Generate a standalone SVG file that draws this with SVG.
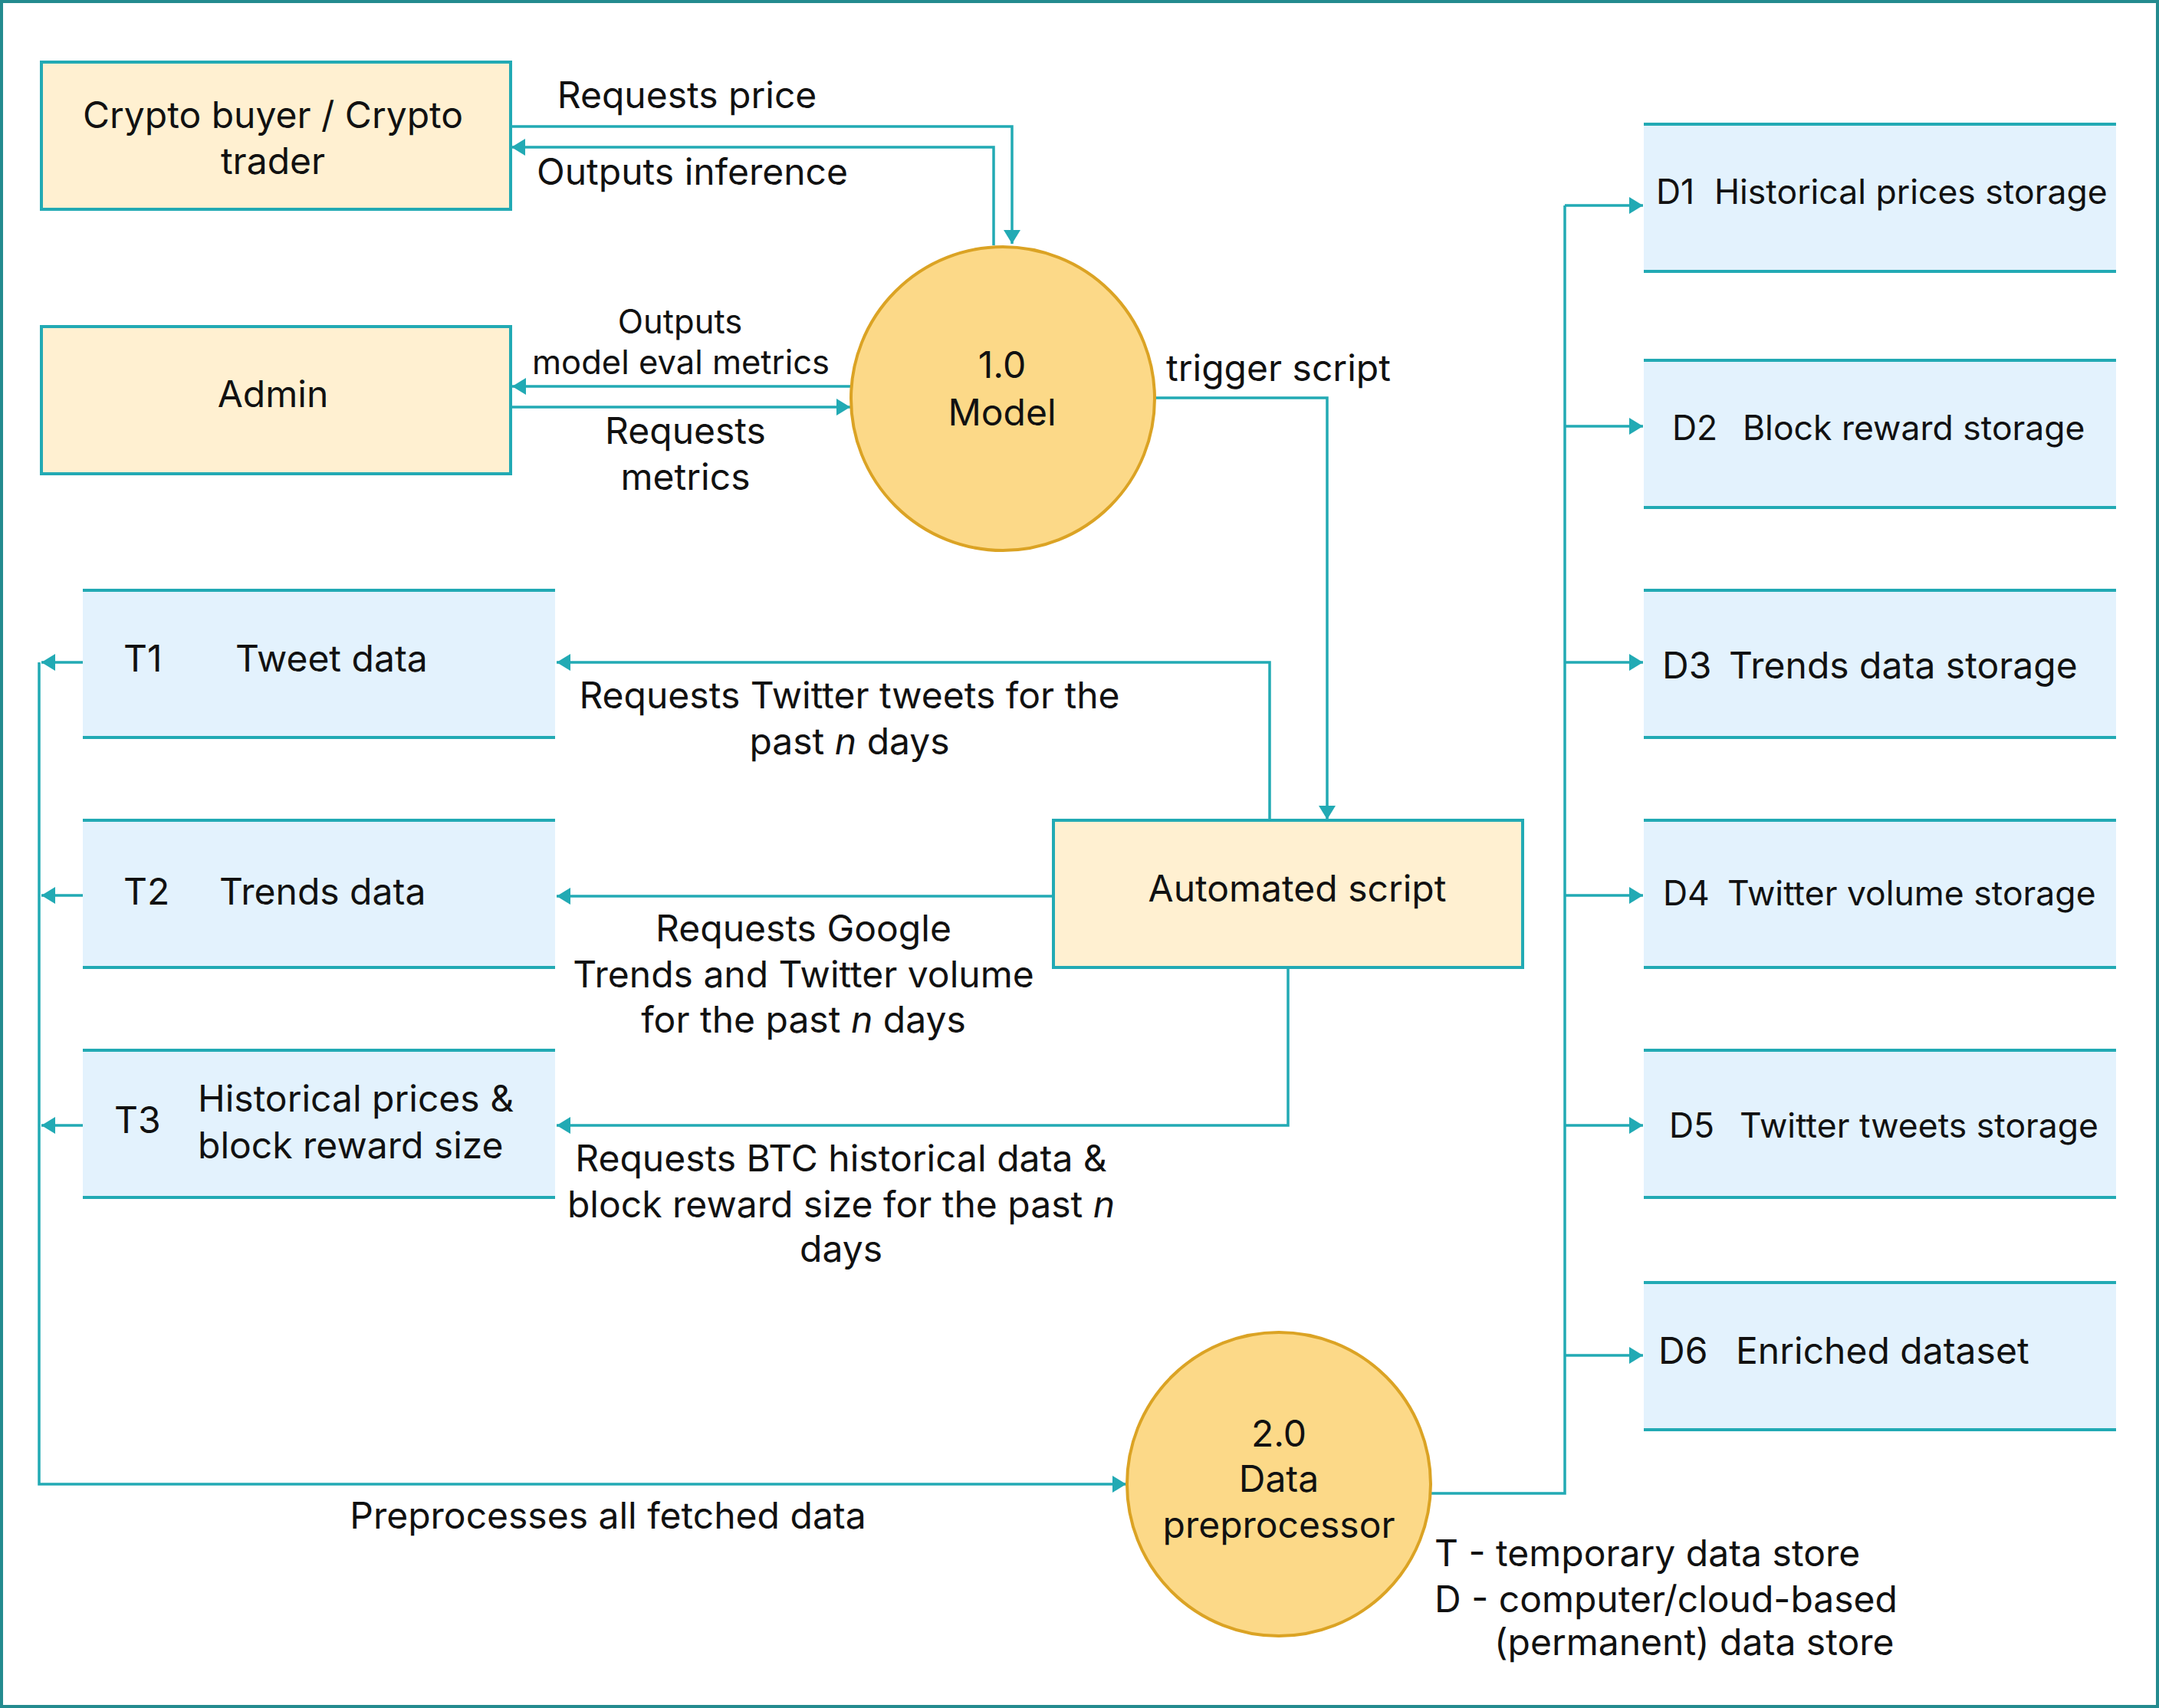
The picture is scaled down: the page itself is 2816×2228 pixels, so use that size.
<svg xmlns="http://www.w3.org/2000/svg" width="2816" height="2228" viewBox="0 0 2816 2228">
<style>
.t{font-family:Inter,"Noto Sans","Liberation Sans",sans-serif;font-size:48px;fill:#111;}
.s{font-size:43.5px;}
.d{font-size:44.5px;}
.m{text-anchor:middle;}
.ent{fill:#FFF0D1;stroke:#22AAB4;stroke-width:4;}
.store{fill:#E3F2FD;}
.sl{stroke:#22AAB4;stroke-width:4;fill:none;}
.proc{fill:#FCD988;stroke:#DBA324;stroke-width:4;}
.c{stroke:#22AAB4;stroke-width:3.5;fill:none;}
.ca{stroke:#22AAB4;stroke-width:3.5;fill:none;marker-end:url(#ah);}
</style>
<defs>
<marker id="ah" markerUnits="userSpaceOnUse" markerWidth="20" markerHeight="24" refX="18" refY="11" orient="auto" viewBox="0 0 20 24">
<path d="M0,0 L18,11 L0,22 z" fill="#22AAB4"/>
</marker>
</defs>
<rect x="0" y="0" width="2816" height="2228" fill="#fff"/>
<rect x="2" y="2" width="2812" height="2224" fill="none" stroke="#238B8F" stroke-width="4"/>

<g id="connectors">
<path class="ca" d="M666,165 H1320 V318"/>
<path class="ca" d="M1296,320 V192 H667"/>
<path class="ca" d="M1110,504 H668"/>
<path class="ca" d="M666,531 H1109"/>
<path class="ca" d="M1506,519 H1731 V1069"/>
<path class="ca" d="M1656,1070 V864 H726"/>
<path class="ca" d="M1374,1169 H726"/>
<path class="ca" d="M1680,1262 V1468 H726"/>
<path class="ca" d="M108,864 H54"/>
<path class="ca" d="M108,1168 H54"/>
<path class="ca" d="M108,1468 H54"/>
<path class="ca" d="M51,864 V1936 H1469"/>
<path class="c" d="M1866,1948 H2041 V268"/>
<path class="ca" d="M2041,268 H2143"/>
<path class="ca" d="M2041,556 H2143"/>
<path class="ca" d="M2041,864 H2143"/>
<path class="ca" d="M2041,1168 H2143"/>
<path class="ca" d="M2041,1468 H2143"/>
<path class="ca" d="M2041,1768 H2143"/>
</g>

<g id="labels">
<text class="t m" x="896" y="141">Requests price</text>
<text class="t m" x="903" y="241">Outputs inference</text>
<text class="t s m" x="887" y="435">Outputs</text>
<text class="t s m" x="888" y="488">model eval metrics</text>
<text class="t m" x="894" y="579">Requests</text>
<text class="t m" x="894" y="639">metrics</text>
<text class="t" x="1521" y="497">trigger script</text>
<text class="t m" x="1108" y="924">Requests Twitter tweets for the</text>
<text class="t m" x="1108" y="984">past <tspan font-style="italic">n</tspan> days</text>
<text class="t m" x="1048" y="1228">Requests Google</text>
<text class="t m" x="1048" y="1288">Trends and Twitter volume</text>
<text class="t m" x="1048" y="1347">for the past <tspan font-style="italic">n</tspan> days</text>
<text class="t m" x="1097" y="1528">Requests BTC historical data &amp;</text>
<text class="t m" x="1097" y="1588">block reward size for the past <tspan font-style="italic">n</tspan></text>
<text class="t m" x="1097" y="1646">days</text>
<text class="t m" x="793" y="1994">Preprocesses all fetched data</text>
<text class="t" x="1871" y="2043">T - temporary data store</text>
<text class="t" x="1871" y="2103">D - computer/cloud-based</text>
<text class="t" x="1949" y="2159">(permanent) data store</text>
</g>

<g id="crypto-buyer">
<rect class="ent" x="54" y="81" width="612" height="192"/>
<text class="t m" x="356" y="167">Crypto buyer / Crypto</text>
<text class="t m" x="356" y="227">trader</text>
</g>
<g id="admin">
<rect class="ent" x="54" y="426" width="612" height="192"/>
<text class="t m" x="356" y="531">Admin</text>
</g>
<g id="model">
<circle class="proc" cx="1308" cy="520" r="198"/>
<text class="t m" x="1307" y="493">1.0</text>
<text class="t m" x="1307" y="555">Model</text>
</g>
<g id="automated-script">
<rect class="ent" x="1374" y="1070" width="612" height="192"/>
<text class="t m" x="1692" y="1176">Automated script</text>
</g>
<g id="preprocessor">
<circle class="proc" cx="1668" cy="1936" r="198"/>
<text class="t m" x="1668" y="1887">2.0</text>
<text class="t m" x="1668" y="1946">Data</text>
<text class="t m" x="1668" y="2006">preprocessor</text>
</g>

<g id="T1">
<rect class="store" x="108" y="770" width="616" height="192"/>
<path class="sl" d="M108,770 H724 M108,962 H724"/>
<text class="t" x="161" y="876">T1</text>
<text class="t" x="307" y="876">Tweet data</text>
</g>
<g id="T2">
<rect class="store" x="108" y="1070" width="616" height="192"/>
<path class="sl" d="M108,1070 H724 M108,1262 H724"/>
<text class="t" x="161" y="1180">T2</text>
<text class="t" x="286" y="1180">Trends data</text>
</g>
<g id="T3">
<rect class="store" x="108" y="1370" width="616" height="192"/>
<path class="sl" d="M108,1370 H724 M108,1562 H724"/>
<text class="t" x="149" y="1478">T3</text>
<text class="t" x="258" y="1450">Historical prices &amp;</text>
<text class="t" x="258" y="1511">block reward size</text>
</g>

<g id="D1">
<rect class="store" x="2144" y="162" width="616" height="192"/>
<path class="sl" d="M2144,162 H2760 M2144,354 H2760"/>
<text class="t d" x="2160" y="266">D1</text>
<text class="t d" x="2236" y="266">Historical prices storage</text>
</g>
<g id="D2">
<rect class="store" x="2144" y="470" width="616" height="192"/>
<path class="sl" d="M2144,470 H2760 M2144,662 H2760"/>
<text class="t d" x="2181" y="574">D2</text>
<text class="t d" x="2273" y="574">Block reward storage</text>
</g>
<g id="D3">
<rect class="store" x="2144" y="770" width="616" height="192"/>
<path class="sl" d="M2144,770 H2760 M2144,962 H2760"/>
<text class="t" x="2168" y="885">D3</text>
<text class="t" x="2255" y="885">Trends data storage</text>
</g>
<g id="D4">
<rect class="store" x="2144" y="1070" width="616" height="192"/>
<path class="sl" d="M2144,1070 H2760 M2144,1262 H2760"/>
<text class="t d" x="2169" y="1181">D4</text>
<text class="t d" x="2253" y="1181">Twitter volume storage</text>
</g>
<g id="D5">
<rect class="store" x="2144" y="1370" width="616" height="192"/>
<path class="sl" d="M2144,1370 H2760 M2144,1562 H2760"/>
<text class="t d" x="2177" y="1484">D5</text>
<text class="t d" x="2269" y="1484">Twitter tweets storage</text>
</g>
<g id="D6">
<rect class="store" x="2144" y="1673" width="616" height="192"/>
<path class="sl" d="M2144,1673 H2760 M2144,1865 H2760"/>
<text class="t" x="2163" y="1779">D6</text>
<text class="t" x="2264" y="1779">Enriched dataset</text>
</g>
</svg>
